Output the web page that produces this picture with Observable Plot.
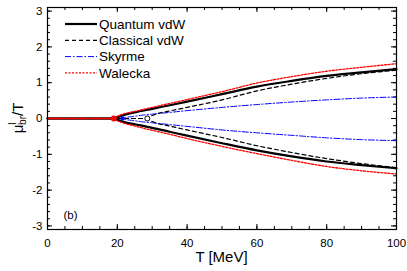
<!DOCTYPE html>
<html><head><meta charset="utf-8">
<script src="https://cdn.jsdelivr.net/npm/d3@7"></script>
<script src="https://cdn.jsdelivr.net/npm/@observablehq/plot@0.6"></script>
<style>
html,body{margin:0;padding:0;background:#fff;}
#chart{position:relative;width:407px;height:271px;font-family:"Liberation Sans",Arial,sans-serif;}
</style></head>
<body><div id="chart"></div>
<script>
// Tick labels
const xTicks = [0, 20, 40, 60, 80, 100];
const yTicks = [-3, -2, -1, 0, 1, 2, 3];

// Series names
const seriesNames = ["Quantum vdW", "Classical vdW", "Skyrme", "Walecka"];

// Quantum vdW
const T_q   = [0, 19.7, 20.5, 22, 25, 30, 35, 40, 50, 60, 70, 80, 90, 100];
const q_up  = [0, 0, 0.05, 0.10, 0.17, 0.27, 0.37, 0.47, 0.68, 0.89, 1.05, 1.19, 1.29, 1.38];
const q_lo  = [0, 0, -0.05, -0.10, -0.16, -0.26, -0.37, -0.48, -0.69, -0.89, -1.06, -1.20, -1.30, -1.39];
// Classical vdW
const T_c   = [0, 28.6, 29.5, 31, 35, 40, 50, 60, 70, 80, 90, 100];
const c_up  = [0, 0, 0.06, 0.12, 0.21, 0.31, 0.52, 0.77, 0.96, 1.12, 1.25, 1.35];
const c_lo  = [0, 0, -0.06, -0.12, -0.21, -0.32, -0.53, -0.76, -0.95, -1.12, -1.26, -1.37];
// Skyrme
const T_s   = [0, 21.5, 22.5, 24, 27, 30, 35, 40, 50, 60, 70, 80, 90, 100];
const s_up  = [0, 0, 0.03, 0.05, 0.09, 0.12, 0.17, 0.22, 0.31, 0.39, 0.46, 0.52, 0.57, 0.60];
const s_lo  = [0, 0, -0.03, -0.05, -0.09, -0.12, -0.17, -0.22, -0.32, -0.40, -0.47, -0.54, -0.59, -0.62];
// Walecka
const T_w   = [0, 19, 19.8, 21, 25, 30, 35, 40, 50, 60, 70, 80, 90, 100];
const w_up  = [0, 0, 0.05, 0.10, 0.20, 0.31, 0.42, 0.53, 0.75, 0.99, 1.17, 1.32, 1.43, 1.53];
const w_lo  = [0, 0, -0.05, -0.10, -0.21, -0.33, -0.44, -0.56, -0.78, -0.98, -1.17, -1.34, -1.46, -1.55];

// Critical points (T_c, mu/T)
const critT  = [19.7, 28.6, 21.5, 19.0];
const critMu = [0, 0, 0, 0];

const styles = {
  "Quantum vdW":   {stroke: "#000", strokeWidth: 2.2, dash: null},
  "Classical vdW": {stroke: "#000", strokeWidth: 1.2, dash: "4,3"},
  "Skyrme":        {stroke: "#0000ff", strokeWidth: 1, dash: "6,2,1.5,2"},
  "Walecka":       {stroke: "#ff0000", strokeWidth: 1.3, dash: "2,1.5"}
};

const toRows = (T, v) => T.map((t, i) => ({T: t, mu: v[i]}));
const seriesData = [
  ["Skyrme", T_s, s_up, s_lo],
  ["Quantum vdW", T_q, q_up, q_lo],
  ["Classical vdW", T_c, c_up, c_lo],
  ["Walecka", T_w, w_up, w_lo]
];

const W = 407, H = 271, mL = 47, mR = 11, mT = 7, mB = 42;
const fh = H - mT - mB, fw = W - mL - mR;
const xMinor = d3.range(0, 100.01, 5);
const yMinor = d3.range(-3, 3.01, 0.2).map(d => +d.toFixed(1));

const lineMarks = [];
for (const [name, T, up, lo] of seriesData) {
  const s = styles[name];
  for (const branch of [up, lo]) {
    lineMarks.push(Plot.line(toRows(T, branch), {
      x: "T", y: "mu", stroke: s.stroke, strokeWidth: s.strokeWidth,
      strokeDasharray: s.dash, curve: "monotone-x"
    }));
  }
}

const crit = critT.map((t, i) => ({T: t, mu: critMu[i], name: seriesNames[i]}));

const plot = Plot.plot({
  width: W, height: H,
  marginLeft: mL, marginRight: mR, marginTop: mT, marginBottom: mB,
  style: {fontFamily: "'Liberation Sans', Arial, sans-serif", fontSize: "11px", background: "#fff", overflow: "visible"},
  x: {domain: [0, 100], ticks: xTicks, label: null},
  y: {domain: [-3.1, 3.1], ticks: yTicks, label: null},
  marks: [
    Plot.axisX({ticks: xTicks, tickSize: 0, tickPadding: 9, fontSize: 11.5, label: null}),
    Plot.axisY({ticks: yTicks, tickSize: 0, tickPadding: 5, fontSize: 11.5, label: null, tickFormat: d => d < 0 ? "-" + Math.abs(d) : String(d)}),
    // inward ticks
    Plot.tickX(xMinor, {x: d => d, insetTop: fh - 3, stroke: "#000"}),
    Plot.tickX(xMinor, {x: d => d, insetBottom: fh - 3, stroke: "#000"}),
    Plot.tickX(xTicks, {x: d => d, insetTop: fh - 5, stroke: "#000"}),
    Plot.tickX(xTicks, {x: d => d, insetBottom: fh - 5, stroke: "#000"}),
    Plot.tickY(yMinor, {y: d => d, insetRight: fw - 3, stroke: "#000"}),
    Plot.tickY(yMinor, {y: d => d, insetLeft: fw - 3, stroke: "#000"}),
    Plot.tickY(yTicks, {y: d => d, insetRight: fw - 5, stroke: "#000"}),
    Plot.tickY(yTicks, {y: d => d, insetLeft: fw - 5, stroke: "#000"}),
    ...lineMarks,
    Plot.dot(crit.filter(d => d.name === "Classical vdW"), {x: "T", y: "mu", r: 2.5, stroke: "#000", fill: "#fff", strokeWidth: 1}),
    Plot.dot(crit.filter(d => d.name === "Skyrme"), {x: "T", y: "mu", r: 2.2, fill: "#0000ff"}),
    Plot.dot(crit.filter(d => d.name === "Quantum vdW"), {x: "T", y: "mu", r: 2.2, fill: "#000"}),
    Plot.dot(crit.filter(d => d.name === "Walecka"), {x: "T", y: "mu", r: 3, fill: "#ff0000"}),
    Plot.text(["(b)"], {frameAnchor: "bottom-left", dx: 16, dy: -11, fontSize: 11.5, text: d => d}),
    Plot.frame({stroke: "#000", strokeWidth: 1.2})
  ]
});

document.getElementById("chart").appendChild(plot);
const svg = d3.select(plot);

// Legend
const leg = svg.append("g").attr("font-family", "'Liberation Sans', Arial, sans-serif")
  .attr("font-size", 13.5).attr("text-anchor", "start");
seriesNames.forEach((name, i) => {
  const s = styles[name];
  const y = 24 + i * 16.3;
  leg.append("line").attr("x1", 65).attr("x2", 97).attr("y1", y).attr("y2", y)
    .attr("stroke", s.stroke).attr("stroke-width", s.strokeWidth)
    .attr("stroke-dasharray", s.dash);
  leg.append("text").attr("x", 99).attr("y", y).attr("dy", "0.35em").attr("fill", "#000").text(name);
});

// Axis titles
svg.append("text").attr("x", mL + fw / 2).attr("y", 262).attr("text-anchor", "middle")
  .attr("font-family", "'Liberation Sans', Arial, sans-serif").attr("font-size", 15).text("T [MeV]");
const yl = svg.append("text").attr("transform", `translate(23,${mT + fh / 2}) rotate(-90)`)
  .attr("text-anchor", "middle").attr("font-family", "'Liberation Sans', Arial, sans-serif").attr("font-size", 15);
yl.append("tspan").text("μ");
yl.append("tspan").attr("font-size", 10).attr("dy", -7).attr("dx", 0).text("l");
yl.append("tspan").attr("font-size", 10).attr("dy", 10).attr("dx", -2.5).text("br");
yl.append("tspan").attr("dy", -3).text("/T");
</script>
</body></html>
